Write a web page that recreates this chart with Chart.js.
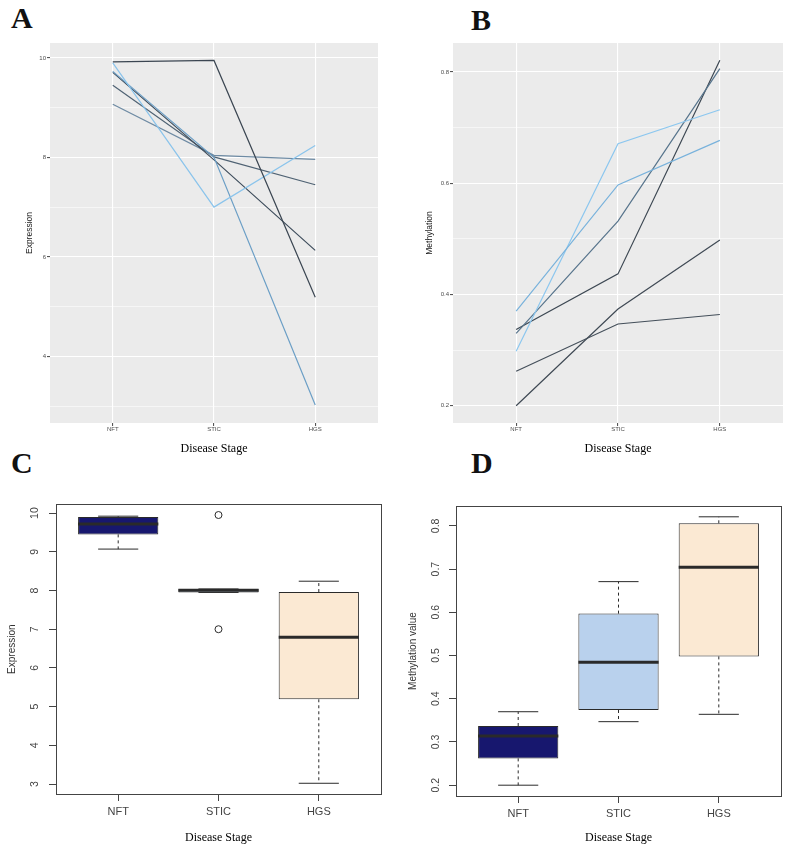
<!DOCTYPE html>
<html>
<head>
<meta charset="utf-8">
<script src="https://cdn.jsdelivr.net/npm/chart.js@4.4.1/dist/chart.umd.min.js"></script>
<style>
  body { margin: 0; background: #fff; width: 787px; height: 845px; position: relative; overflow: hidden; }
  canvas { position: absolute; }
  .tag { position: absolute; font: bold 30px "Liberation Serif", serif; line-height: 1; color: #111; }
</style>
</head>
<body>
<div class="tag" style="left:11px;top:3px">A</div>
<div class="tag" style="left:471px;top:5px">B</div>
<div class="tag" style="left:11px;top:448px">C</div>
<div class="tag" style="left:471px;top:448px">D</div>

<canvas id="chartA" width="393" height="424" style="left:0;top:36px"></canvas>
<canvas id="chartB" width="387" height="424" style="left:400px;top:36px"></canvas>
<canvas id="chartC" width="393" height="355" style="left:0;top:490px"></canvas>
<canvas id="chartD" width="387" height="355" style="left:400px;top:490px"></canvas>

<script>
const stages = ["NFT", "STIC", "HGS"];

// expression of each gene at NFT, STIC, HGS (panels A and C)
const expr1 = [9.92, 9.95, 5.19];
const expr2 = [9.90, 7.00, 8.24];
const expr3 = [9.73, 8.00, 3.02];
const expr4 = [9.71, 7.95, 6.13];
const expr5 = [9.45, 8.01, 7.45];
const expr6 = [9.07, 8.04, 7.96];
const exprColors = ["#3b4652", "#8ac4ec", "#6c9fc6", "#3e4d5c", "#4f6273", "#6d8aa3"];

// methylation of each gene at NFT, STIC, HGS (panels B and D)
const meth1 = [0.370, 0.597, 0.677];
const meth2 = [0.298, 0.671, 0.732];
const meth3 = [0.330, 0.532, 0.806];
const meth4 = [0.337, 0.437, 0.821];
const meth5 = [0.262, 0.347, 0.364];
const meth6 = [0.200, 0.374, 0.498];
const methColors = ["#78b2dc", "#8cc7ef", "#57748c", "#3d4853", "#444f5a", "#3f4954"];

const exprTicks = [3, 4, 5, 6, 7, 8, 9, 10];
const exprMajor = [4, 6, 8, 10];
const methTicks = [0.2, 0.3, 0.4, 0.5, 0.6, 0.7, 0.8];
const methMajor = [0.2, 0.4, 0.6, 0.8];
const boxExprTicks = [3, 4, 5, 6, 7, 8, 9, 10];
const boxMethTicks = [0.2, 0.3, 0.4, 0.5, 0.6, 0.7, 0.8];
const boxColors = ["#17176e", "#b9d1ed", "#fbe9d3"];

const exprSeries = [expr1, expr2, expr3, expr4, expr5, expr6];
const methSeries = [meth1, meth2, meth3, meth4, meth5, meth6];

Chart.defaults.font.family = "'Liberation Sans', Arial, sans-serif";
Chart.defaults.animation = false;

const ggBackground = {
  id: "ggBackground",
  beforeDraw(chart) {
    const { ctx, chartArea: a } = chart;
    ctx.save();
    ctx.fillStyle = "#EBEBEB";
    ctx.fillRect(a.left, a.top, a.right - a.left, a.bottom - a.top);
    ctx.restore();
  }
};

const frame = {
  id: "frame",
  afterDraw(chart) {
    const { ctx, chartArea: a } = chart;
    ctx.save();
    ctx.strokeStyle = "#444";
    ctx.lineWidth = 1;
    ctx.strokeRect(Math.round(a.left) + 0.5, Math.round(a.top) + 0.5,
      Math.round(a.right - a.left), Math.round(a.bottom - a.top));
    ctx.restore();
  }
};

function stageAxis(extra) {
  return Object.assign({
    type: "linear",
    min: -0.62,
    max: 2.62,
    offset: false,
    afterBuildTicks: (s) => { s.ticks = stages.map((_, i) => ({ value: i })); }
  }, extra);
}

function ggChart(id, series, colors, ticks, majors, yMin, yMax, yTitle, pad) {
  const isMajor = (v) => majors.includes(v);
  new Chart(document.getElementById(id), {
    type: "line",
    data: {
      datasets: series.map((vals, k) => ({
        data: vals.map((v, i) => ({ x: i, y: v })),
        borderColor: colors[k],
        borderWidth: 1.2,
        pointRadius: 0,
        tension: 0
      }))
    },
    options: {
      responsive: false,
      layout: { padding: pad },
      plugins: { legend: { display: false }, tooltip: { enabled: false } },
      scales: {
        x: stageAxis({
          afterFit: (s) => { s.height = 37; },
          grid: { color: "#fff", lineWidth: 1.1, tickColor: "#555", tickLength: 3, offset: false },
          border: { display: false },
          ticks: { font: { size: 6 }, color: "#4d4d4d", padding: 0, autoSkip: false, maxRotation: 0,
            callback: (v) => stages[v] },
          title: { display: true, text: "Disease Stage", color: "#000",
            font: { family: "'Liberation Serif', serif", size: 12 }, padding: { top: 0, bottom: 4 } }
        }),
        y: {
          min: yMin,
          max: yMax,
          afterBuildTicks: (s) => { s.ticks = ticks.map((v) => ({ value: v })); },
          afterFit: (s) => { s.width = pad.yWidth; },
          grid: {
            color: "#fff",
            lineWidth: (c) => (isMajor(c.tick.value) ? 1.1 : 0.55),
            tickColor: (c) => (isMajor(c.tick.value) ? "#555" : "rgba(0,0,0,0)"),
            tickLength: 3
          },
          border: { display: false },
          ticks: { font: { size: 6 }, color: "#4d4d4d", padding: 1, autoSkip: false,
            callback: (v) => (isMajor(v) ? String(v) : "") },
          title: { display: true, text: yTitle, color: "#222", font: { size: 8.5 },
            padding: { top: 25, bottom: 0 } }
        }
      }
    },
    plugins: [ggBackground]
  });
}

// R style boxplot statistics (fivenum hinges, 1.5 IQR whiskers)
function boxStats(vals) {
  const s = [...vals].sort((a, b) => a - b);
  const n = s.length;
  const n4 = Math.floor((n + 3) / 2) / 2;
  const at = (d) => 0.5 * (s[Math.floor(d - 1)] + s[Math.ceil(d - 1)]);
  const q1 = at(n4), med = at((n + 1) / 2), q3 = at(n + 1 - n4);
  const lim = 1.5 * (q3 - q1);
  const inside = s.filter((v) => v >= q1 - lim && v <= q3 + lim);
  return {
    lo: inside[0], q1, med, q3, hi: inside[inside.length - 1],
    out: s.filter((v) => v < q1 - lim || v > q3 + lim)
  };
}

function boxChart(id, series, ticks, yMin, yMax, yTitle, opt) {
  const stats = stages.map((_, i) => boxStats(series.map((s) => s[i])));
  const seg = (pts, dash, width) => ({
    type: "line", data: pts, borderColor: "#2a2a2a", borderWidth: width,
    borderDash: dash, pointRadius: 0, order: 0
  });
  const datasets = [{
    type: "bar",
    data: stats.map((st, i) => ({ x: i, y: [st.q1, st.q3] })),
    backgroundColor: boxColors,
    borderColor: "#2a2a2a",
    borderWidth: 1,
    borderSkipped: false,
    barPercentage: 0.8,
    categoryPercentage: 1,
    order: 5
  }];
  stats.forEach((st, i) => {
    datasets.push(seg([{ x: i, y: st.q3 }, { x: i, y: st.hi }], [3, 3], 1));
    datasets.push(seg([{ x: i, y: st.q1 }, { x: i, y: st.lo }], [3, 3], 1));
    datasets.push(seg([{ x: i - 0.2, y: st.hi }, { x: i + 0.2, y: st.hi }], [], 1));
    datasets.push(seg([{ x: i - 0.2, y: st.lo }, { x: i + 0.2, y: st.lo }], [], 1));
    datasets.push(seg([{ x: i - 0.4, y: st.med }, { x: i + 0.4, y: st.med }], [], 3));
    if (st.out.length) {
      datasets.push({
        type: "scatter", data: st.out.map((v) => ({ x: i, y: v })),
        pointRadius: 3.5, pointBackgroundColor: "rgba(0,0,0,0)", pointBorderColor: "#2a2a2a",
        pointBorderWidth: 1, order: 0
      });
    }
  });
  new Chart(document.getElementById(id), {
    type: "bar",
    data: { datasets },
    options: {
      responsive: false,
      layout: { padding: opt.pad },
      plugins: { legend: { display: false }, tooltip: { enabled: false } },
      scales: {
        x: stageAxis({
          afterFit: (s) => { s.height = opt.xHeight; },
          grid: { drawOnChartArea: false, tickColor: "#444", tickLength: 7, offset: false },
          border: { display: false },
          ticks: { font: { size: 11 }, color: "#444", padding: 4, autoSkip: false, maxRotation: 0,
            callback: (v) => stages[v] },
          title: { display: true, text: "Disease Stage", color: "#000",
            font: { family: "'Liberation Serif', serif", size: 12 }, padding: { top: 0, bottom: 0 } }
        }),
        y: {
          type: "linear",
          min: yMin,
          max: yMax,
          afterBuildTicks: (s) => { s.ticks = ticks.map((v) => ({ value: v })); },
          afterFit: (s) => { s.width = 56; },
          grid: { drawOnChartArea: false, tickColor: "#444", tickLength: 7 },
          border: { display: false },
          ticks: { font: { size: 10.5 }, color: "#444", padding: opt.tickPad, autoSkip: false,
            minRotation: 90, maxRotation: 90, crossAlign: "center",
            callback: (v) => String(v) },
          title: { display: true, text: yTitle, color: "#333", font: { size: 10 },
            padding: { top: opt.titlePad, bottom: 0 } }
        }
      }
    },
    plugins: [frame]
  });
}

ggChart("chartA", exprSeries, exprColors, exprTicks, exprMajor, 2.66, 10.3, "Expression",
  { left: 0, top: 7, right: 15, bottom: 0, yWidth: 50 });
ggChart("chartB", methSeries, methColors, methTicks, methMajor, 0.169, 0.852, "Methylation",
  { left: 0, top: 7, right: 4, bottom: 0, yWidth: 53 });

boxChart("chartC", exprSeries, boxExprTicks, 2.743, 10.227, "Expression",
  { pad: { left: 0, top: 14, right: 12, bottom: 0 }, xHeight: 51, tickPad: 8, titlePad: 6 });
boxChart("chartD", methSeries, boxMethTicks, 0.175, 0.846, "Methylation value",
  { pad: { left: 0, top: 16, right: 6, bottom: 0 }, xHeight: 49, tickPad: 5.5, titlePad: 7 });
</script>
</body>
</html>
